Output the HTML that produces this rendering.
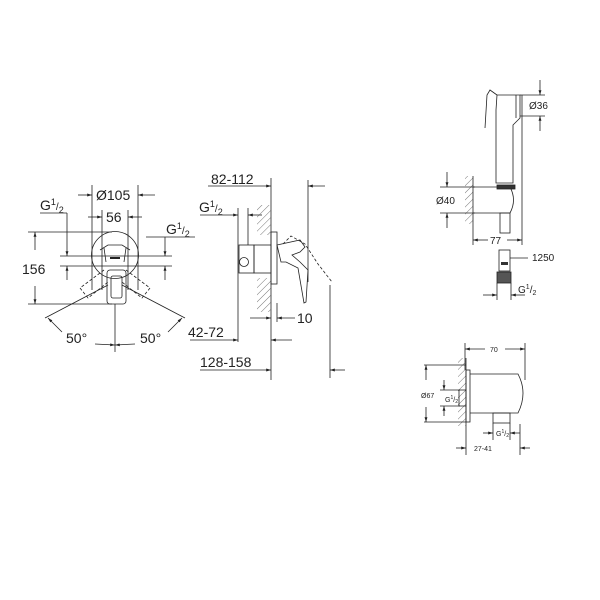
<!DOCTYPE html>
<html><head><meta charset="utf-8"><style>
html,body{margin:0;padding:0;background:#fff}
svg{display:block}
text{font-family:"Liberation Sans",sans-serif;fill:#222}
</style></head><body>
<svg width="600" height="600" viewBox="0 0 600 600" xmlns="http://www.w3.org/2000/svg">
<defs>
<marker id="a" viewBox="0 0 10 10" refX="10" refY="5" markerWidth="6" markerHeight="6" orient="auto-start-reverse"><path d="M0,2 L10,5 L0,8z" fill="#222"/></marker>
<pattern id="h" width="5" height="5" patternUnits="userSpaceOnUse" patternTransform="rotate(45)"><line x1="0" y1="0" x2="0" y2="5" stroke="#555" stroke-width="0.8"/></pattern>
</defs>
<g stroke="#222" stroke-width="0.8" fill="none">
<!-- LEFT VIEW -->
<line x1="92" y1="185" x2="92" y2="290"/><line x1="138" y1="185" x2="138" y2="290"/>
<line x1="78" y1="195" x2="92" y2="195" marker-end="url(#a)"/><line x1="155" y1="195" x2="138" y2="195" marker-end="url(#a)"/>
<line x1="102" y1="210" x2="102" y2="290"/><line x1="128" y1="210" x2="128" y2="290"/>
<line x1="88" y1="217" x2="102" y2="217" marker-end="url(#a)"/><line x1="142" y1="217" x2="128" y2="217" marker-end="url(#a)"/>
<line x1="40" y1="213" x2="67" y2="213"/><line x1="67" y1="213" x2="67" y2="256" marker-end="url(#a)"/><line x1="67" y1="280" x2="67" y2="266" marker-end="url(#a)"/>
<line x1="146" y1="237" x2="195" y2="237"/><line x1="165" y1="237" x2="165" y2="256" marker-end="url(#a)"/><line x1="165" y1="280" x2="165" y2="266" marker-end="url(#a)"/>
<line x1="60" y1="256" x2="172" y2="256"/><line x1="60" y1="266" x2="172" y2="266"/>
<circle cx="115" cy="255" r="23.5"/>
<path d="M100 250 L108 245 L122 245 L130 250 M104 248 L106 262 M126 248 L124 262" />
<line x1="110" y1="258" x2="120" y2="258" stroke-width="2"/>
<path d="M104 270 L80 288 L88 298 L108 282 M126 270 L150 288 L142 298 L122 282" stroke-dasharray="3,2"/>
<rect x="107" y="270" width="19" height="34" rx="3"/>
<rect x="111" y="276" width="11" height="22" rx="2"/>
<line x1="28" y1="232" x2="112" y2="232"/><line x1="28" y1="304" x2="112" y2="304"/>
<line x1="35" y1="250" x2="35" y2="232" marker-end="url(#a)"/><line x1="35" y1="286" x2="35" y2="304" marker-end="url(#a)"/>
<line x1="115" y1="304" x2="115" y2="352"/>
<line x1="108" y1="285" x2="45" y2="318"/><line x1="122" y1="285" x2="185" y2="318"/>
<path d="M62 332 L48 318" marker-end="url(#a)"/><path d="M168 332 L182 318" marker-end="url(#a)"/>
<path d="M95 344 L115 345" marker-end="url(#a)"/><path d="M135 344 L115 345" marker-end="url(#a)"/>
<!-- MIDDLE VIEW -->
<line x1="208" y1="186" x2="271" y2="186" marker-end="url(#a)"/>
<line x1="271" y1="178" x2="271" y2="380"/>
<line x1="325" y1="186" x2="308" y2="186" marker-end="url(#a)"/>
<line x1="308" y1="180" x2="308" y2="282"/>
<line x1="330" y1="285" x2="330" y2="378"/>
<line x1="200" y1="215" x2="238" y2="215" marker-end="url(#a)"/>
<line x1="238" y1="208" x2="238" y2="342"/>
<line x1="262" y1="215" x2="248" y2="215" marker-end="url(#a)"/><line x1="248" y1="208" x2="248" y2="245"/>
<rect x="257" y="205" width="14" height="30" fill="url(#h)" stroke="none"/>
<rect x="257" y="278" width="14" height="34" fill="url(#h)" stroke="none"/>
<rect x="271" y="232" width="6" height="52"/>
<rect x="254" y="245" width="17" height="28"/>
<rect x="239" y="245" width="15" height="28"/>
<circle cx="244" cy="262" r="4.5"/>
<path d="M277 245 L300 240 L305 247 L300 252 L292 255 L300 262 L308 270 L306 302 L304 303 L298 268 L286 262 L281 262 Z"/>
<path d="M283 244 L291 236 L305 244 L318 264 L332 282" stroke-dasharray="3,2"/>
<line x1="250" y1="318" x2="271" y2="318" marker-end="url(#a)"/><line x1="295" y1="318" x2="277" y2="318" marker-end="url(#a)"/>
<line x1="277" y1="303" x2="277" y2="322"/>
<line x1="190" y1="340" x2="238" y2="340" marker-end="url(#a)"/><line x1="292" y1="340" x2="271" y2="340" marker-end="url(#a)"/>
<line x1="200" y1="370" x2="271" y2="370" marker-end="url(#a)"/><line x1="345" y1="370" x2="330" y2="370" marker-end="url(#a)"/>
<!-- RIGHT TOP -->
<path d="M497 95 L520 95 L520 118 L513 125 L513 183 L496 183 L496 110 Z"/>
<path d="M497 95 L490 90 L487 95 L485 128" />
<line x1="516" y1="95" x2="516" y2="118"/>
<line x1="520" y1="95" x2="545" y2="95"/><line x1="520" y1="116" x2="545" y2="116"/>
<line x1="540" y1="80" x2="540" y2="95" marker-end="url(#a)"/><line x1="540" y1="131" x2="540" y2="116" marker-end="url(#a)"/>
<line x1="522" y1="95" x2="522" y2="245"/>
<rect x="465" y="176" width="8" height="48" fill="url(#h)" stroke="none"/>
<line x1="473" y1="176" x2="473" y2="245"/>
<path d="M473 187 L510 187 Q517 200 510 213 L473 213"/>
<rect x="497" y="185" width="18" height="4" fill="#333"/>
<rect x="500" y="213" width="10" height="20"/>
<line x1="440" y1="187" x2="475" y2="187"/><line x1="440" y1="213" x2="475" y2="213"/>
<line x1="447" y1="172" x2="447" y2="187" marker-end="url(#a)"/><line x1="447" y1="228" x2="447" y2="213" marker-end="url(#a)"/>
<line x1="473" y1="240" x2="488" y2="240" marker-start="url(#a)"/><line x1="507" y1="240" x2="522" y2="240" marker-end="url(#a)"/>
<rect x="499" y="250" width="11" height="21"/>
<rect x="501" y="262" width="7" height="3" fill="#333" stroke="none"/>
<rect x="497" y="272" width="14" height="11" fill="#555"/>
<line x1="510" y1="258" x2="528" y2="258"/>
<line x1="497" y1="283" x2="497" y2="300"/><line x1="511" y1="283" x2="511" y2="300"/>
<line x1="483" y1="295" x2="497" y2="295" marker-end="url(#a)"/><line x1="525" y1="295" x2="511" y2="295" marker-end="url(#a)"/>
<!-- RIGHT BOTTOM -->
<line x1="465" y1="343" x2="465" y2="370"/><line x1="525" y1="343" x2="525" y2="380"/>
<line x1="485" y1="349" x2="465" y2="349" marker-end="url(#a)"/><line x1="505" y1="349" x2="525" y2="349" marker-end="url(#a)"/>
<rect x="458" y="358" width="8" height="68" fill="url(#h)" stroke="none"/>
<line x1="466" y1="358" x2="466" y2="455"/>
<rect x="466" y="370" width="4" height="52"/>
<rect x="459" y="390" width="7" height="16"/>
<path d="M470 374 L518 374 Q528 393 518 413 L470 413"/>
<rect x="493" y="413" width="17" height="10"/>
<line x1="424" y1="365" x2="466" y2="365"/><line x1="424" y1="422" x2="466" y2="422"/>
<line x1="426" y1="380" x2="426" y2="365" marker-end="url(#a)"/><line x1="426" y1="407" x2="426" y2="422" marker-end="url(#a)"/>
<line x1="440" y1="390" x2="460" y2="390"/><line x1="440" y1="406" x2="460" y2="406"/>
<line x1="444" y1="380" x2="444" y2="390" marker-end="url(#a)"/><line x1="444" y1="416" x2="444" y2="406" marker-end="url(#a)"/>
<line x1="493" y1="423" x2="493" y2="440"/><line x1="510" y1="423" x2="510" y2="440"/>
<line x1="483" y1="433" x2="493" y2="433" marker-end="url(#a)"/><line x1="520" y1="433" x2="510" y2="433" marker-end="url(#a)"/>
<line x1="520" y1="424" x2="520" y2="455"/>
<line x1="456" y1="448" x2="466" y2="448" marker-end="url(#a)"/><line x1="530" y1="448" x2="520" y2="448" marker-end="url(#a)"/>
</g>
<g font-size="14">
<text x="96" y="200">Ø105</text>
<text x="106" y="222">56</text>
<text x="40" y="210">G<tspan font-size="9" dy="-5">1</tspan><tspan font-size="10" dy="5">/</tspan><tspan font-size="9" dy="3">2</tspan></text>
<text x="166" y="234">G<tspan font-size="9" dy="-5">1</tspan><tspan font-size="10" dy="5">/</tspan><tspan font-size="9" dy="3">2</tspan></text>
<text x="22" y="274">156</text>
<text x="66" y="343">50°</text>
<text x="140" y="343">50°</text>
<text x="211" y="184">82-112</text>
<text x="199" y="212">G<tspan font-size="9" dy="-5">1</tspan><tspan font-size="10" dy="5">/</tspan><tspan font-size="9" dy="3">2</tspan></text>
<text x="297" y="323">10</text>
<text x="188" y="337">42-72</text>
<text x="200" y="367">128-158</text>
</g>
<g font-size="10">
<text x="529" y="109">Ø36</text>
<text x="436" y="204">Ø40</text>
<text x="490" y="244">77</text>
<text x="532" y="261">1250</text>
<text x="518" y="293">G<tspan font-size="7" dy="-4">1</tspan><tspan dy="4">/</tspan><tspan font-size="7" dy="2">2</tspan></text>
</g>
<g font-size="7">
<text x="490" y="352">70</text>
<text x="421" y="398">Ø67</text>
<text x="445" y="402">G<tspan font-size="5" dy="-3">1</tspan><tspan dy="3">/</tspan><tspan font-size="5" dy="1">2</tspan></text>
<text x="496" y="436">G<tspan font-size="5" dy="-3">1</tspan><tspan dy="3">/</tspan><tspan font-size="5" dy="1">2</tspan></text>
<text x="474" y="451">27-41</text>
</g>
</svg>
</body></html>
